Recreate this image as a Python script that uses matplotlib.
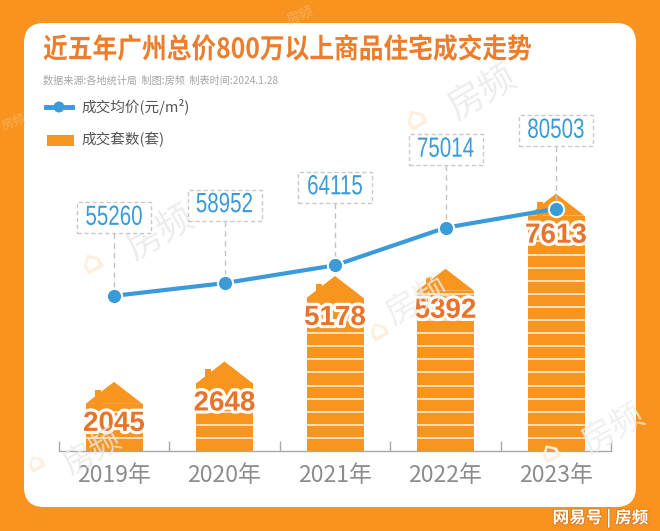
import matplotlib
matplotlib.use("Agg")
import matplotlib.pyplot as plt
import matplotlib.patheffects as pe
from matplotlib.patches import FancyBboxPatch, Rectangle, Polygon, Circle
from matplotlib.lines import Line2D
from matplotlib.transforms import IdentityTransform, Affine2D
import numpy as np

plt.rcParams['font.family'] = ['Noto Sans CJK SC', 'DejaVu Sans']

# ---------------- data ----------------
years = ['2019年', '2020年', '2021年', '2022年', '2023年']
volume = [2045, 2648, 5178, 5392, 7613]          # 成交套数(套)
avg_price = [55260, 58952, 64115, 75014, 80503]  # 成交均价(元/m2)

title = '近五年广州总价800万以上商品住宅成交走势'
subtitle = '数据来源:各地统计局  制图:房频  制表时间:2024.1.28'
legend_line = '成交均价(元/m²)'
legend_bar = '成交套数(套)'
footer = '网易号 | 房频'

# ---------------- style ----------------
W, H = 660, 531
ORANGE = '#F7931E'
BAR = '#F8951F'
TITLE_C = '#EE7D2B'
LABEL_C = '#E8732B'
BLUE = '#3A9BD8'
GRAY = '#8C8C8C'


class HScale(pe.AbstractPathEffect):
    """Draw text horizontally condensed (narrow typeface look)."""

    def __init__(self, sx, anchor='center'):
        super().__init__()
        self.sx = sx
        self.anchor = anchor

    def draw_path(self, renderer, gc, tpath, affine, rgbFace=None):
        ext = tpath.get_extents(affine)
        cx = (ext.x0 + ext.x1) / 2 if self.anchor == 'center' else ext.x0
        new = affine + Affine2D().translate(-cx, 0).scale(self.sx, 1).translate(cx, 0)
        renderer.draw_path(gc, tpath, new, rgbFace)


fig = plt.figure(figsize=(W / 100, H / 100), dpi=100)
fig.patch.set_facecolor(ORANGE)
ID = IdentityTransform()


def py(y):
    return H - y


# white panel
panel = FancyBboxPatch((24, py(507)), 612, 484,
                       boxstyle='round,pad=0,rounding_size=20',
                       transform=ID, fc='white', ec='none', zorder=0)
fig.add_artist(panel)

# watermarks
for (wx, wy, fs, c, rot) in [(160, 232, 26, '#E8E8E8', 30), (482, 92, 26, '#E8E8E8', 30),
                             (418, 300, 24, '#ECECEC', 30), (614, 428, 24, '#ECECEC', 30),
                             (92, 452, 22, '#E8E8E8', 30), (300, 15, 10, '#FBB463', 20),
                             (14, 122, 9, '#FBB463', 20)]:
    fig.text(wx / W, 1 - wy / H, '房频', fontsize=fs, color=c, alpha=0.8,
             rotation=rot, ha='center', va='center', zorder=1)
for (lx, ly, fs) in [(92, 262, 22), (416, 118, 22), (378, 330, 20), (550, 452, 20),
                     (36, 462, 18)]:
    fig.text(lx / W, 1 - ly / H, '⌂', fontsize=fs, color='#FEEEDD', fontweight='bold',
             family=['DejaVu Sans'], rotation=30, ha='center', va='center', zorder=1)

# title & subtitle
fig.text(43 / W, 1 - 50 / H, title, fontsize=20, fontweight='bold', color=TITLE_C,
         ha='left', va='center', path_effects=[HScale(0.89, 'left')])
fig.text(43 / W, 1 - 81 / H, subtitle, fontsize=7.3, color='#A5A5A5',
         ha='left', va='center')

# legend (drawn manually)
fig.add_artist(Line2D([46, 52], [py(107)] * 2, transform=ID, color=BLUE, lw=3.5))
fig.add_artist(Line2D([66, 72], [py(107)] * 2, transform=ID, color=BLUE, lw=3.5))
fig.add_artist(Circle((59, py(107)), 5.5, transform=ID, fc=BLUE, ec='none'))
fig.text(81 / W, 1 - 107 / H, legend_line, fontsize=10.5, color='#555555',
         ha='left', va='center')
fig.add_artist(Rectangle((47, py(146)), 27, 11, transform=ID, fc=BAR, ec='none'))
fig.text(81 / W, 1 - 140 / H, legend_bar, fontsize=10.5, color='#555555',
         ha='left', va='center')

# footer
fig.text(648 / W, 1 - 518 / H, footer, fontsize=12, fontweight='bold', color='white',
         ha='right', va='center',
         path_effects=[pe.withStroke(linewidth=1.2, foreground='#D9781E')])

# ---------------- axes ----------------
ax_left, ax_right = 58.75, 611.25
ax_bottom, ax_top = 451, 100
ax = fig.add_axes([ax_left / W, (H - ax_bottom) / H,
                   (ax_right - ax_left) / W, (ax_bottom - ax_top) / H])
ax.set_facecolor('none')
px_per_unit = 0.0338
ymax = (ax_bottom - ax_top) / px_per_unit
ax.set_ylim(0, ymax)
ax.set_xlim(-0.5, len(years) - 0.5)
unit_per_px = ymax / (ax_bottom - ax_top)
x_per_px = 1 / ((ax_right - ax_left) / len(years))

x = np.arange(len(years))
bw = 57 * x_per_px
roof_h = 22 * unit_per_px
stripe = 13.1 * unit_per_px

ax.bar(x, [v - roof_h for v in volume], width=bw, color=BAR, zorder=2)
for xi, v in zip(x, volume):
    body_top = v - roof_h
    ax.add_patch(Polygon([(xi - bw / 2, body_top), (xi, v), (xi + bw / 2, body_top)],
                         closed=True, fc=BAR, ec='none', zorder=2))
    cx0 = xi - bw / 2 + 9 * x_per_px
    ax.add_patch(Rectangle((cx0, body_top), 6 * x_per_px, roof_h - 8 * unit_per_px,
                           fc=BAR, ec='none', zorder=2))
    ys = np.arange(stripe, body_top - 3 * unit_per_px, stripe)
    ax.hlines(ys, xi - bw / 2, xi + bw / 2, color='#FFF4E6', lw=1.1, zorder=3)
    ax.text(xi, v - 42 * unit_per_px, f'{v}', ha='center', va='center',
            fontsize=20, fontweight='bold', color=LABEL_C,
            family=['Liberation Sans', 'DejaVu Sans'], zorder=6,
            path_effects=[pe.withStroke(linewidth=4.5, foreground='white')])

for s in ['top', 'left', 'right']:
    ax.spines[s].set_visible(False)
ax.spines['bottom'].set_color('#A8A8A8')
ax.spines['bottom'].set_linewidth(1)
ax.set_yticks([])
ax.set_xticks(x)
ax.set_xticklabels(years, fontsize=16.5, color=GRAY)
ax.tick_params(axis='x', which='major', length=0, pad=9)
ax.set_xticks(np.arange(-0.5, len(years)), minor=True)
ax.tick_params(axis='x', which='minor', direction='in', length=7, color='#A8A8A8', width=1)

# price line on twin axis
ax2 = ax.twinx()
ax2.set_ylim(10290, 112029)
for s in ax2.spines.values():
    s.set_visible(False)
ax2.set_yticks([])
ax2.plot(x, avg_price, color=BLUE, lw=3, zorder=5, marker='o', markersize=11,
         markerfacecolor=BLUE, markeredgecolor='white', markeredgewidth=1.5)

# value boxes above each price point (positions taken from the axis transform)
box_w, box_h, lift, marker_r = 74, 31, 78, 9
for xi, v in zip(x, avg_price):
    dx, dy = ax2.transData.transform((xi, v))
    cy = dy + lift
    fig.add_artist(Line2D([dx, dx], [cy - box_h / 2, dy + marker_r], transform=ID,
                          color='#C4C4C4', lw=1, ls=(0, (4, 3)), zorder=3))
    fig.add_artist(Rectangle((dx - box_w / 2, cy - box_h / 2), box_w, box_h,
                             transform=ID, fc='white', ec='#C8C8C8', lw=1,
                             ls=(0, (3, 2)), zorder=3))
    fig.text(dx / W, cy / H, f'{v}', ha='center', va='center', fontsize=20,
             color=BLUE, family=['Liberation Sans', 'DejaVu Sans'], zorder=4,
             path_effects=[HScale(0.74, 'center')])

fig.savefig('out.png', dpi=100, facecolor=fig.get_facecolor())
